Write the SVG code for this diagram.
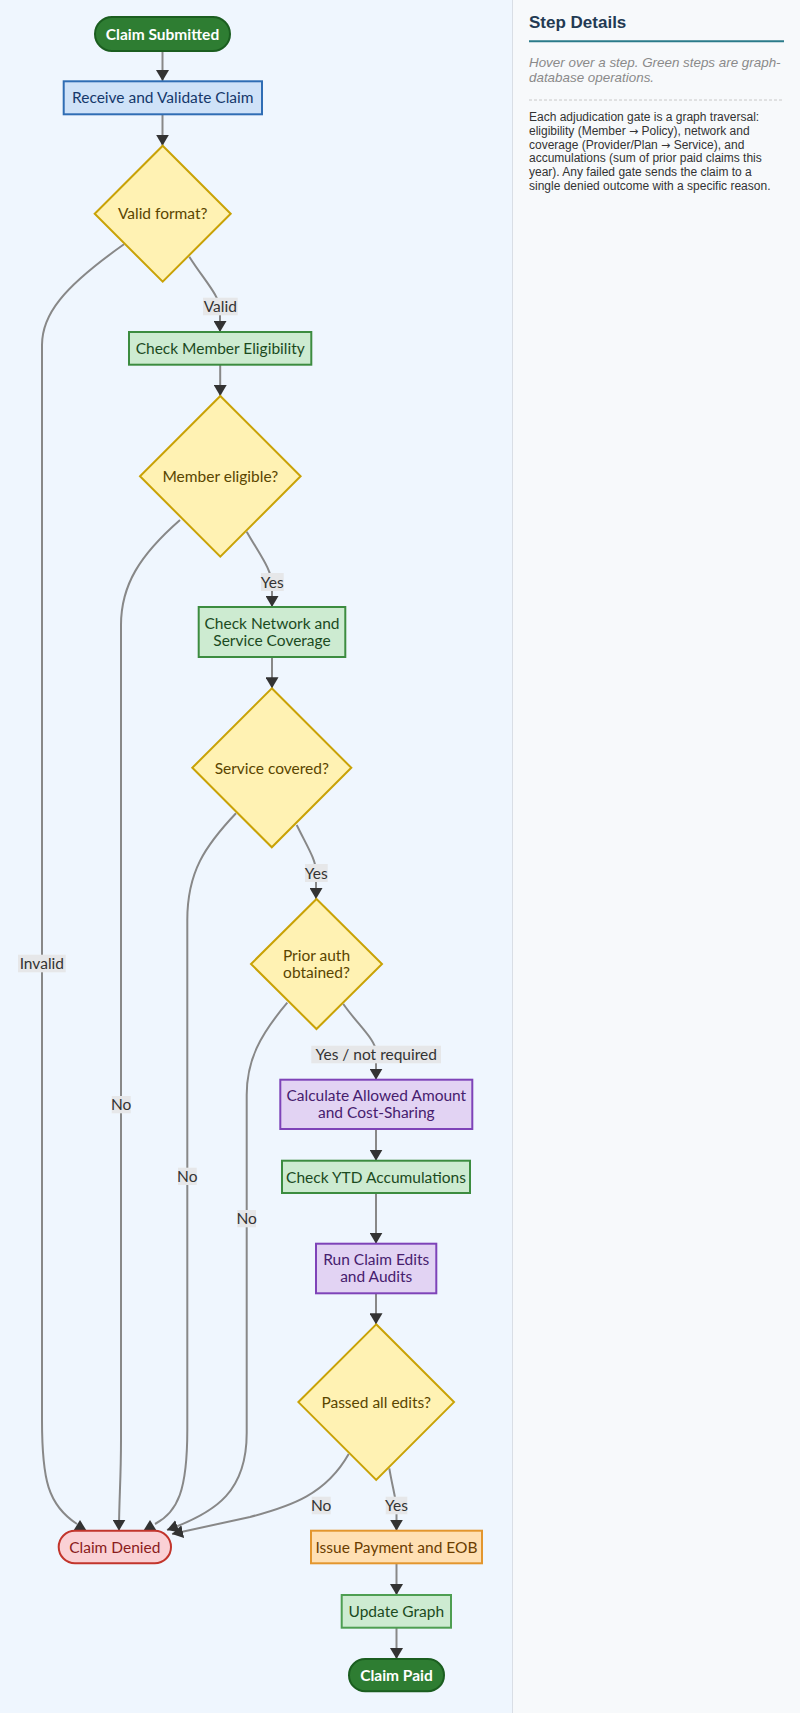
<svg xmlns="http://www.w3.org/2000/svg" width="800" height="1716" viewBox="0 0 800 1716">
<defs>
<style>
.nt{font-family:Lato,"Open Sans","Liberation Sans",sans-serif;font-size:15.5px;text-anchor:middle}
.lt{font-family:Lato,"Open Sans","Liberation Sans",sans-serif;font-size:15.5px;text-anchor:middle;fill:#333}
.lb{fill:#e6e7e9}
.edge{fill:none;stroke:#888;stroke-width:2}
.ah{fill:#333}
.term{fill:#2e7d32;stroke:#1b5e20;stroke-width:2}
.termt{fill:#fff;font-weight:bold}
.blue{fill:#cfe2f8;stroke:#2f6db4;stroke-width:2}
.bluet{fill:#15386b}
.green{fill:#cdebd1;stroke:#3c8c40;stroke-width:2}
.greent{fill:#1b4a1e}
.purple{fill:#e2d3f3;stroke:#7e43b8;stroke-width:2}
.purplet{fill:#46206e}
.dec{fill:#fff2b3;stroke:#c9a206;stroke-width:2}
.dect{fill:#5a4500}
.deny{fill:#fad1d5;stroke:#c2352c;stroke-width:2}
.denyt{fill:#8a1c1c}
.pay{fill:#ffe0b4;stroke:#e3962e;stroke-width:2}
.payt{fill:#6a3d00}
.side{font-family:"Liberation Sans",Arial,sans-serif}
</style>
<marker id="arr" viewBox="0 0 10 10" refX="10" refY="5" markerWidth="11" markerHeight="13" markerUnits="userSpaceOnUse" orient="auto" preserveAspectRatio="none">
<path d="M0,0 L10,5 L0,10 z" fill="#333"/>
</marker>
</defs>
<rect x="0" y="0" width="800" height="1716" fill="#ffffff"/>
<rect x="0" y="0" width="512" height="1713" fill="#eff6fe"/>
<rect x="513" y="0" width="287" height="1713" fill="#f7f9fb"/>
<line x1="512.5" y1="0" x2="512.5" y2="1713" stroke="#d9dee5" stroke-width="1"/>

<g id="side-panel" class="side">
<text x="529" y="28" font-size="17" font-weight="bold" fill="#233a53">Step Details</text>
<line x1="529" y1="41.3" x2="784" y2="41.3" stroke="#2b7b8a" stroke-width="2"/>
<text x="529" y="67" font-size="13.4" font-style="italic" fill="#8a8a8a">Hover over a step. Green steps are graph-</text>
<text x="529" y="82" font-size="13.4" font-style="italic" fill="#8a8a8a">database operations.</text>
<line x1="529" y1="100" x2="784" y2="100" stroke="#c8c8c8" stroke-width="1" stroke-dasharray="3,2"/>
<g font-size="12" fill="#333">
<text x="529" y="120.7">Each adjudication gate is a graph traversal:</text>
<text x="529" y="134.6">eligibility (Member <tspan font-family="'DejaVu Sans',sans-serif" font-size="11">→</tspan> Policy), network and</text>
<text x="529" y="148.5">coverage (Provider/Plan <tspan font-family="'DejaVu Sans',sans-serif" font-size="11">→</tspan> Service), and</text>
<text x="529" y="162.4">accumulations (sum of prior paid claims this</text>
<text x="529" y="176.3">year). Any failed gate sends the claim to a</text>
<text x="529" y="190.2">single denied outcome with a specific reason.</text>
</g>
</g>

<g id="connectors">
<path class="edge" marker-end="url(#arr)" d="M162.5,51 L162.5,81"/>
<path class="edge" marker-end="url(#arr)" d="M162.5,114.3 L162.5,145.7"/>
<path class="edge" marker-end="url(#arr)" d="M189.3,256.7 C204,280 220,296 220,310 L220,332"/>
<path class="edge" d="M124,244.3 C62,288 42,315 42,345 L42,1420 C42,1480 48,1505 77,1524"/>
<path class="edge" marker-end="url(#arr)" d="M220.2,364.7 L220.2,396"/>
<path class="edge" marker-end="url(#arr)" d="M246.7,531.7 C260,555 272,570 272,585 L272,607"/>
<path class="edge" marker-end="url(#arr)" d="M180,520 C140,555 121,585 121,625 L121,1440 C121,1480 119,1500 119,1530.7"/>
<path class="edge" marker-end="url(#arr)" d="M272,657 L272,688.3"/>
<path class="edge" marker-end="url(#arr)" d="M296.7,825 C308,848 316,860 316,872 L316,899"/>
<path class="edge" d="M236,813.3 C205,846 187.3,872 187.3,920 L187.3,1430 C187.3,1490 178,1512 155,1524"/>
<path class="edge" marker-end="url(#arr)" d="M343.3,1004 C358,1025 376,1040 376,1052 L376,1079.7"/>
<path class="edge" marker-end="url(#arr)" d="M287.3,1002.7 C260,1035 246.7,1060 246.7,1095 L246.7,1433 C246.7,1490 218,1512 167,1530"/>
<path class="edge" marker-end="url(#arr)" d="M376,1129 L376,1160.7"/>
<path class="edge" marker-end="url(#arr)" d="M376,1193 L376,1243.7"/>
<path class="edge" marker-end="url(#arr)" d="M376,1293.3 L376,1324.3"/>
<path class="edge" marker-end="url(#arr)" d="M348.7,1454 C326,1494 292,1506 250,1517 L172,1534"/>
<path class="edge" marker-end="url(#arr)" d="M389.3,1468.3 C393,1490 396.5,1500 396.5,1510 L396.5,1530.7"/>
<path class="edge" marker-end="url(#arr)" d="M396.5,1563.3 L396.5,1595"/>
<path class="edge" marker-end="url(#arr)" d="M396.5,1627.7 L396.5,1659"/>
<path class="ah" d="M73.5,1530.5 L80,1520 L86.5,1530.5 z"/>
<path class="ah" d="M143.5,1530.5 L150,1520 L156.5,1530.5 z"/>
<rect class="lb" x="203" y="297.7" width="34.7" height="17.6"/>
<text class="lt" x="220.3" y="312">Valid</text>
<rect class="lb" x="18" y="954.7" width="47.7" height="17.6"/>
<text class="lt" x="41.8" y="969">Invalid</text>
<rect class="lb" x="261" y="573" width="22.7" height="18"/>
<text class="lt" x="272.3" y="587.5">Yes</text>
<rect class="lb" x="111.7" y="1096" width="19" height="17.3"/>
<text class="lt" x="121.2" y="1110.3">No</text>
<rect class="lb" x="305" y="864" width="22.7" height="18"/>
<text class="lt" x="316.3" y="878.5">Yes</text>
<rect class="lb" x="178" y="1167.7" width="18.7" height="17.3"/>
<text class="lt" x="187.3" y="1182">No</text>
<rect class="lb" x="311.3" y="1045.7" width="129.7" height="17.6"/>
<text class="lt" x="376.2" y="1060">Yes / not required</text>
<rect class="lb" x="237.3" y="1210" width="18.7" height="17.3"/>
<text class="lt" x="246.7" y="1224.3">No</text>
<rect class="lb" x="311.7" y="1496.7" width="19" height="17.6"/>
<text class="lt" x="321.2" y="1511">No</text>
<rect class="lb" x="385.7" y="1496.7" width="21.6" height="17.6"/>
<text class="lt" x="396.5" y="1511">Yes</text>
</g>

<g id="claim-submitted">
<rect class="term" x="95" y="17" width="135" height="34" rx="17"/>
<text class="nt termt" x="162.5" y="39.5">Claim Submitted</text>
</g>
<g id="receive-validate">
<rect class="blue" x="63.7" y="81.3" width="198.3" height="33"/>
<text class="nt bluet" x="162.8" y="103.3">Receive and Validate Claim</text>
</g>
<g id="valid-format">
<polygon class="dec" points="162.7,145.7 230.7,213.7 162.7,281.7 94.7,213.7"/>
<text class="nt dect" x="162.7" y="219">Valid format?</text>
</g>
<g id="check-member">
<rect class="green" x="129" y="332" width="182.3" height="32.7"/>
<text class="nt greent" x="220.2" y="353.8">Check Member Eligibility</text>
</g>
<g id="member-eligible">
<polygon class="dec" points="220.3,396 300.6,476.3 220.3,556.6 140,476.3"/>
<text class="nt dect" x="220.3" y="482">Member eligible?</text>
</g>
<g id="check-network">
<rect class="green" x="198.7" y="607" width="146.6" height="50"/>
<text class="nt greent" x="272" y="628.5">Check Network and</text>
<text class="nt greent" x="272" y="645.8">Service Coverage</text>
</g>
<g id="service-covered">
<polygon class="dec" points="271.8,688.3 351.3,767.8 271.8,847.3 192.3,767.8"/>
<text class="nt dect" x="271.8" y="773.5">Service covered?</text>
</g>
<g id="prior-auth">
<polygon class="dec" points="316.5,899 382,964 316.5,1029 251,964"/>
<text class="nt dect" x="316.5" y="961">Prior auth</text>
<text class="nt dect" x="316.5" y="977.8">obtained?</text>
</g>
<g id="calculate-allowed">
<rect class="purple" x="280.3" y="1079.7" width="192" height="49.3"/>
<text class="nt purplet" x="376.3" y="1100.8">Calculate Allowed Amount</text>
<text class="nt purplet" x="376.3" y="1117.5">and Cost-Sharing</text>
</g>
<g id="check-ytd">
<rect class="green" x="282" y="1160.7" width="188" height="32.3"/>
<text class="nt greent" x="376" y="1182.5">Check YTD Accumulations</text>
</g>
<g id="run-claim-edits">
<rect class="purple" x="316" y="1243.7" width="120.3" height="49.6"/>
<text class="nt purplet" x="376.2" y="1264.5">Run Claim Edits</text>
<text class="nt purplet" x="376.2" y="1281.8">and Audits</text>
</g>
<g id="passed-edits">
<polygon class="dec" points="376.2,1324.3 454,1402.1 376.2,1479.9 298.4,1402.1"/>
<text class="nt dect" x="376.2" y="1407.5">Passed all edits?</text>
</g>
<g id="claim-denied">
<rect class="deny" x="58.7" y="1530.7" width="112.3" height="32.6" rx="16.3"/>
<text class="nt denyt" x="114.8" y="1552.5">Claim Denied</text>
</g>
<g id="issue-payment">
<rect class="pay" x="311" y="1530.7" width="171" height="32.6"/>
<text class="nt payt" x="396.5" y="1552.5">Issue Payment and EOB</text>
</g>
<g id="update-graph">
<rect class="green" x="341.7" y="1595" width="109.3" height="32.7" style="stroke:#4e9e52"/>
<text class="nt greent" x="396.3" y="1616.8">Update Graph</text>
</g>
<g id="claim-paid">
<rect class="term" x="349" y="1659" width="95" height="32.3" rx="16.2"/>
<text class="nt termt" x="396.5" y="1680.8">Claim Paid</text>
</g>
</svg>
